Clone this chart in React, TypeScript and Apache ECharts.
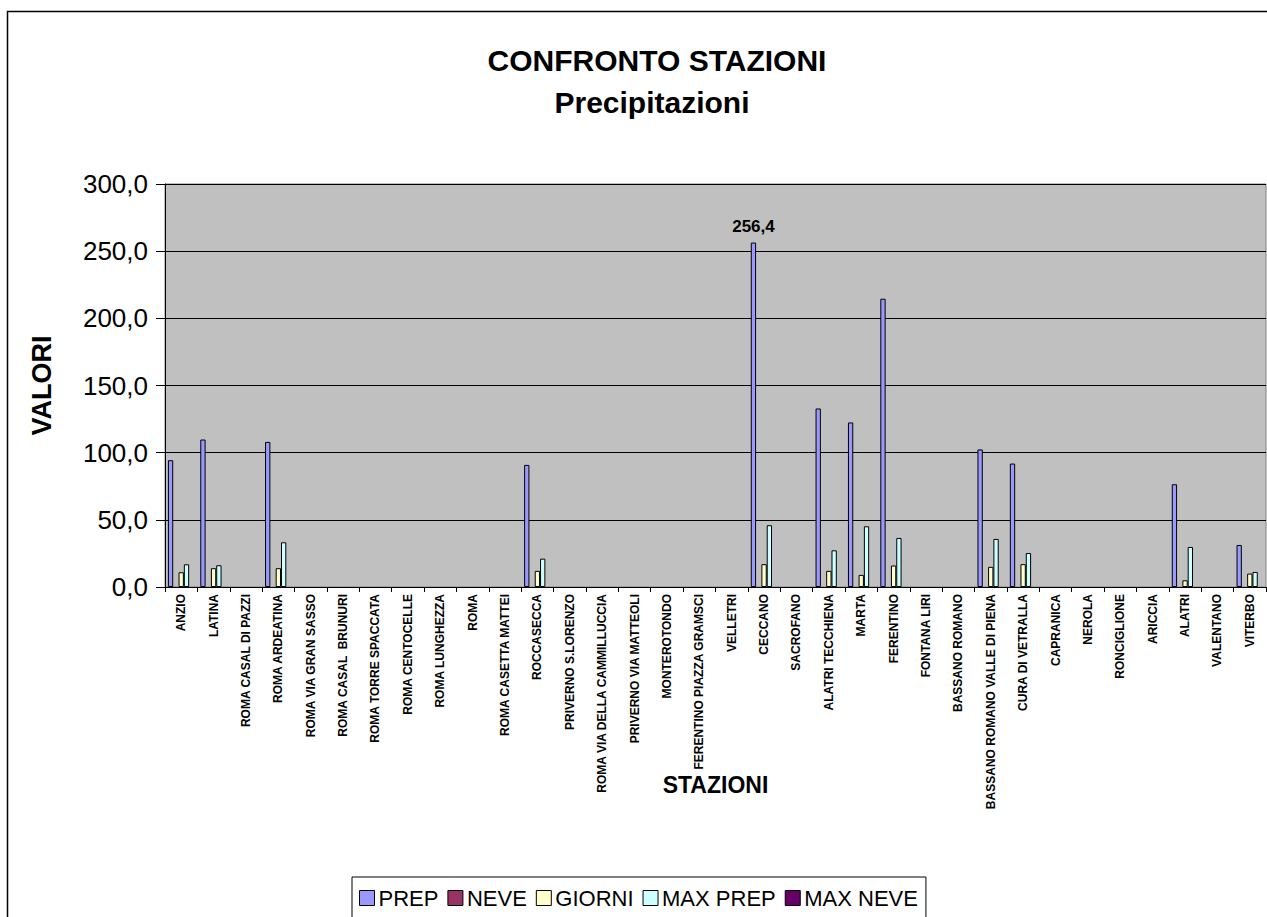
import React, { useEffect, useRef } from "react";
import * as echarts from "echarts";

const STATIONS = [
  "ANZIO", "LATINA", "ROMA CASAL DI PAZZI", "ROMA ARDEATINA", "ROMA VIA GRAN SASSO",
  "ROMA CASAL  BRUNURI", "ROMA TORRE SPACCATA", "ROMA CENTOCELLE", "ROMA LUNGHEZZA", "ROMA",
  "ROMA CASETTA MATTEI", "ROCCASECCA", "PRIVERNO S.LORENZO", "ROMA VIA DELLA CAMMILLUCCIA",
  "PRIVERNO VIA MATTEOLI", "MONTEROTONDO", "FERENTINO PIAZZA GRAMSCI", "VELLETRI", "CECCANO",
  "SACROFANO", "ALATRI TECCHIENA", "MARTA", "FERENTINO", "FONTANA LIRI", "BASSANO ROMANO",
  "BASSANO ROMANO VALLE DI PIENA", "CURA DI VETRALLA", "CAPRANICA", "NEROLA", "RONCIGLIONE",
  "ARICCIA", "ALATRI", "VALENTANO", "VITERBO",
];

const PREP = [94.4, 109.8, 0, 108.0, 0, 0, 0, 0, 0, 0, 0, 90.9, 0, 0, 0, 0, 0, 0, 256.4, 0, 132.9, 122.5, 214.6, 0, 0, 102.4, 91.9, 0, 0, 0, 0, 76.5, 0, 31.3];
const NEVE = [0, 0, 0, 0, 0, 0, 0, 0, 0, 0, 0, 0, 0, 0, 0, 0, 0, 0, 0, 0, 0, 0, 0, 0, 0, 0, 0, 0, 0, 0, 0, 0, 0, 0];
const GIORNI = [11, 14, 0, 14, 0, 0, 0, 0, 0, 0, 0, 12, 0, 0, 0, 0, 0, 0, 17, 0, 12, 9, 16, 0, 0, 15, 17, 0, 0, 0, 0, 5, 0, 10];
const MAX_PREP = [16.9, 16.2, 0, 33.3, 0, 0, 0, 0, 0, 0, 0, 21.1, 0, 0, 0, 0, 0, 0, 46.0, 0, 27.3, 45.2, 36.5, 0, 0, 35.8, 25.3, 0, 0, 0, 0, 29.8, 0, 11.2];
const MAX_NEVE = [0, 0, 0, 0, 0, 0, 0, 0, 0, 0, 0, 0, 0, 0, 0, 0, 0, 0, 0, 0, 0, 0, 0, 0, 0, 0, 0, 0, 0, 0, 0, 0, 0, 0];

const SERIES_NAMES = ["PREP", "NEVE", "GIORNI", "MAX PREP", "MAX NEVE"];
const SERIES_COLORS = ["#9999FF", "#993366", "#FFFFCC", "#CCFFFF", "#660066"];
const LABELED_STATION = "CECCANO";

const Y_MIN = 0;
const Y_MAX = 300;
const Y_STEP = 50;

const fmt = (v: number) => v.toFixed(1).replace(".", ",");
const FONT = "'Liberation Sans', Arial, sans-serif";

export default function App() {
  const ref = useRef<HTMLDivElement>(null);

  useEffect(() => {
    if (!ref.current) return;
    const chart = echarts.init(ref.current, null, { renderer: "svg" });
    const allData = [PREP, NEVE, GIORNI, MAX_PREP, MAX_NEVE];
    const labeledIdx = STATIONS.indexOf(LABELED_STATION);

    const series = allData.map((arr, si) => ({
      name: SERIES_NAMES[si],
      type: "bar",
      barGap: "0%",
      barCategoryGap: "18%",
      itemStyle: { color: SERIES_COLORS[si], borderColor: "#000", borderWidth: 1 },
      data: arr.map((v, i) => {
        // zero values are not drawn (as in the original spreadsheet chart)
        if (v === 0) return "-";
        if (si === 0 && i === labeledIdx) {
          return {
            value: v,
            label: {
              show: true,
              position: "top",
              distance: 8,
              formatter: (p: any) => fmt(p.value),
              fontFamily: FONT,
              fontWeight: "bold",
              fontSize: 17,
              color: "#000",
            },
          };
        }
        return v;
      }),
    }));

    chart.setOption({
      animation: false,
      backgroundColor: "#fff",
      textStyle: { fontFamily: FONT },
      graphic: [
        {
          type: "rect",
          shape: { x: 7.5, y: 11.5, width: 1400, height: 1000 },
          style: { fill: "none", stroke: "#000", lineWidth: 1.5 },
          silent: true,
          z: -10,
        },
        {
          type: "text",
          x: 657,
          y: 60,
          style: {
            text: "CONFRONTO STAZIONI",
            textAlign: "center",
            textVerticalAlign: "middle",
            font: `bold 30px ${FONT}`,
            fill: "#000",
          },
        },
        {
          type: "text",
          x: 652,
          y: 102,
          style: {
            text: "Precipitazioni",
            textAlign: "center",
            textVerticalAlign: "middle",
            font: `bold 30px ${FONT}`,
            fill: "#000",
          },
        },
      ],
      legend: {
        left: 352,
        top: 877,
        orient: "horizontal",
        icon: "rect",
        itemWidth: 15,
        itemHeight: 15,
        itemGap: 9,
        padding: [10, 8, 12, 7],
        borderColor: "#000",
        borderWidth: 1,
        backgroundColor: "#fff",
        itemStyle: { borderColor: "#000", borderWidth: 1 },
        textStyle: { fontFamily: FONT, fontSize: 22, color: "#000", padding: [0, 0, 0, -1] },
        data: SERIES_NAMES,
      },
      grid: {
        left: 165,
        top: 184,
        width: 1101,
        height: 403,
        show: true,
        backgroundColor: "#C0C0C0",
        borderColor: "#808080",
        borderWidth: 1,
      },
      xAxis: {
        type: "category",
        data: STATIONS,
        name: "STAZIONI",
        nameLocation: "middle",
        nameGap: 186,
        nameMoveOverlap: false,
        nameTextStyle: { fontFamily: FONT, fontWeight: "bold", fontSize: 23, color: "#000" },
        axisLine: { lineStyle: { color: "#000", width: 1 } },
        axisTick: { show: true, interval: 0, length: 5, lineStyle: { color: "#000" } },
        axisLabel: {
          interval: 0,
          rotate: 90,
          margin: 7,
          fontFamily: FONT,
          fontWeight: "bold",
          fontSize: 12,
          color: "#000",
        },
        splitLine: { show: false },
      },
      yAxis: {
        type: "value",
        min: Y_MIN,
        max: Y_MAX,
        interval: Y_STEP,
        name: "VALORI",
        nameLocation: "middle",
        nameRotate: 90,
        nameGap: 110,
        nameTextStyle: { fontFamily: FONT, fontWeight: "bold", fontSize: 27, color: "#000" },
        axisLine: { show: true, lineStyle: { color: "#000", width: 1 } },
        axisTick: { show: true, inside: false, length: 9, lineStyle: { color: "#000" } },
        axisLabel: {
          margin: 17,
          fontFamily: FONT,
          fontSize: 26,
          color: "#000",
          formatter: (v: number) => fmt(v),
        },
        splitLine: { show: true, lineStyle: { color: "#000", width: 1 } },
      },
      series,
    });

    return () => chart.dispose();
  }, []);

  return (
    <div
      ref={ref}
      style={{ position: "fixed", left: 0, top: 0, width: 1267, height: 917 }}
    />
  );
}
